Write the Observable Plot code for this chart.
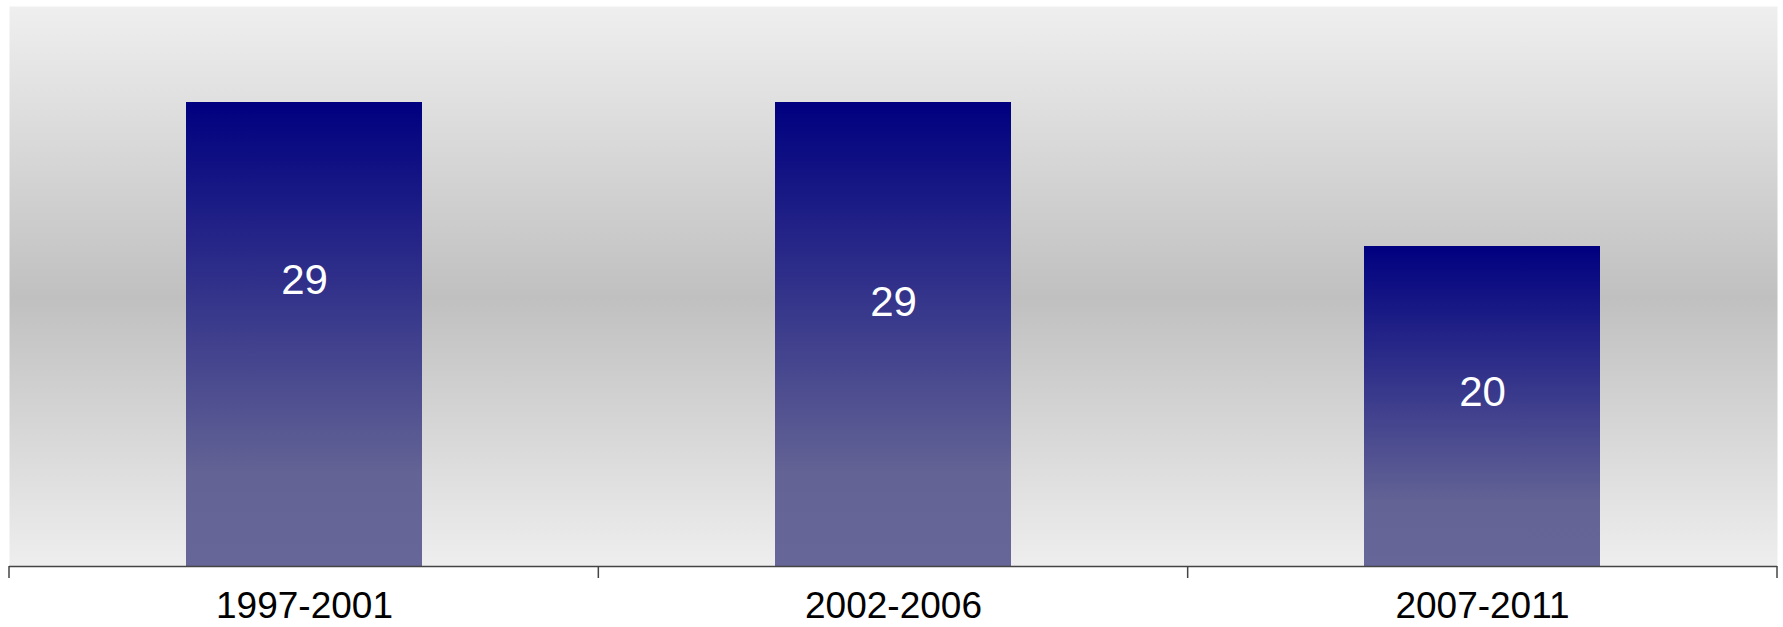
<!DOCTYPE html>
<html><head><meta charset="utf-8">
<script src="https://cdn.jsdelivr.net/npm/d3@7"></script>
<script src="https://cdn.jsdelivr.net/npm/@observablehq/plot@0.6"></script>
<style>html,body{margin:0;padding:0;background:#fff;overflow:hidden}</style>
</head><body><div id="chart"></div>
<script>
const periods = ["1997-2001", "2002-2006", "2007-2011"];
const values = [29, 29, 20];
const labelY = [17.9, 16.5, 10.9];
const yDomain = [0, 35];

const rows = periods.map((p, i) => ({period: p, value: values[i], labelY: labelY[i]}));

const defsMark = () => {
  const defs = d3.create("svg:defs");
  const bg = defs.append("linearGradient").attr("id", "bgGrad").attr("x1", 0).attr("y1", 0).attr("x2", 0).attr("y2", 1);
  [[0, "#efefef"], [0.52, "#c0c0c0"], [1, "#eeeeee"]].forEach(([o, c]) => bg.append("stop").attr("offset", o).attr("stop-color", c));
  const bar = defs.append("linearGradient").attr("id", "barGrad").attr("x1", 0).attr("y1", 0).attr("x2", 0).attr("y2", 1);
  [[0, "#000080"], [0.8, "#636395"], [1, "#666698"]].forEach(([o, c]) => bar.append("stop").attr("offset", o).attr("stop-color", c));
  return defs.node();
};

const boundaryTicks = (index, scales, values, dims) => {
  const g = d3.create("svg:g").attr("stroke", "#444").attr("stroke-width", 1.5);
  const n = scales.x.domain().length;
  const x0 = dims.marginLeft, x1 = dims.width - dims.marginRight;
  const yb = dims.height - dims.marginBottom;
  for (let i = 0; i <= n; i++) {
    const x = x0 + (x1 - x0) * i / n;
    g.append("line").attr("x1", x).attr("x2", x).attr("y1", yb).attr("y2", yb + 12);
  }
  return g.node();
};

const chart = Plot.plot({
  width: 1783,
  height: 627,
  marginLeft: 9,
  marginRight: 6,
  marginTop: 6,
  marginBottom: 61,
  style: {fontFamily: "'Liberation Sans', Arial, sans-serif", background: "#fff"},
  x: {domain: periods, paddingInner: 0.6, paddingOuter: 0.3, label: null},
  y: {domain: yDomain, axis: null},
  marks: [
    defsMark,
    Plot.frame({fill: "url(#bgGrad)", stroke: "none"}),
    Plot.barY(rows, {x: "period", y: "value", fill: "url(#barGrad)"}),
    Plot.text(rows, {x: "period", y: "labelY", text: d => String(d.value), fill: "white", fontSize: 42}),
    Plot.ruleY([0], {stroke: "#444", strokeWidth: 1.5}),
    boundaryTicks,
    Plot.axisX({tickSize: 0, tickPadding: 25, fontSize: 37, color: "#000", label: null})
  ]
});
document.getElementById("chart").appendChild(chart);
</script>
</body></html>
